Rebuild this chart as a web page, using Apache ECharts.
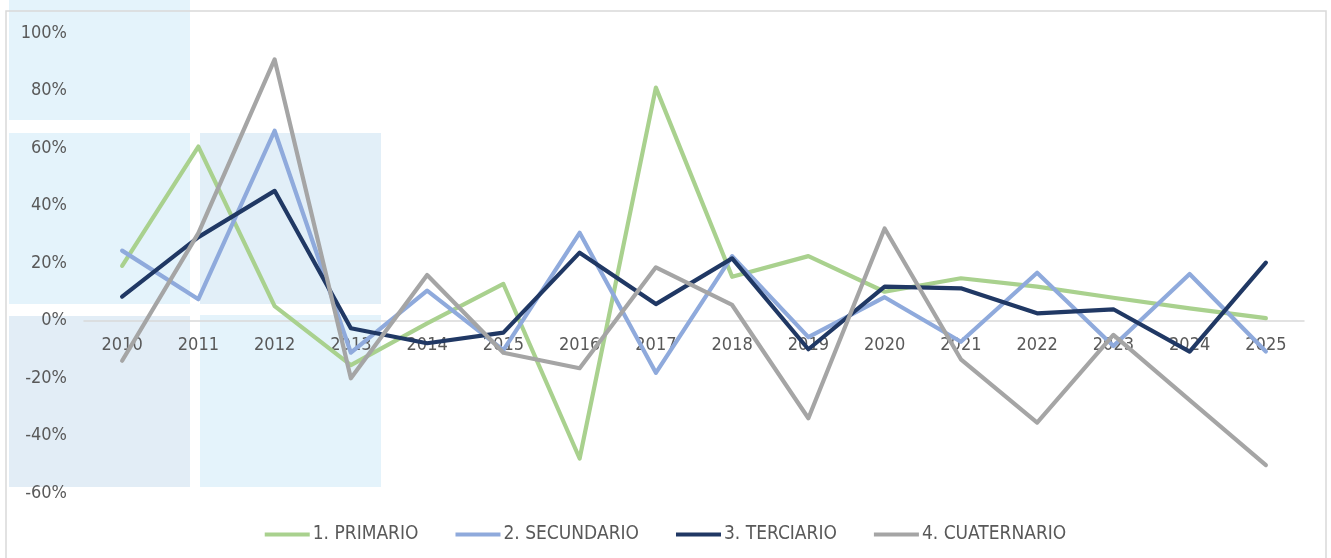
<!DOCTYPE html>
<html>
<head>
<meta charset="utf-8">
<script src="https://cdn.jsdelivr.net/npm/echarts@6/dist/echarts.min.js"></script>
<style>
  html, body { margin: 0; padding: 0; background: #fff; }
  #chart { width: 1331px; height: 558px; }
</style>
</head>
<body>
<div id="chart"></div>
<script>
// años
const years = ['2010', '2011', '2012', '2013', '2014', '2015', '2016', '2017', '2018', '2019', '2020', '2021', '2022', '2023', '2024', '2025']
// variación anual (%) por sector
const primario = [19, 60.5, 5, -15.5, -1, 12.7, -48, 81, 15.2, 22.4, 10, 14.7, 11.8, 7.9, 4.2, 0.8]
const secundario = [24.3, 7.4, 66, -11.2, 10.4, -10.3, 30.5, -18.2, 22.4, -5.8, 8.1, -7.4, 16.6, -8.9, 16.2, -10.8]
const terciario = [8.3, 29, 45.1, -2.7, -7.9, -4.2, 23.6, 5.7, 21.6, -10, 11.8, 11.2, 2.5, 3.9, -10.8, 20.1]
const cuaternario = [-14, 30.4, 90.8, -20.1, 15.8, -11.2, -16.6, 18.5, 5.4, -34, 32, -13.5, -35.5, -5, -27.7, -50.3]

const seriesNames = ['1. PRIMARIO', '2. SECUNDARIO', '3. TERCIARIO', '4. CUATERNARIO']
const colors = ['#a9d18e', '#8faadc', '#203864', '#a5a5a5']

const font = '"DejaVu Sans Condensed", "DejaVu Sans", sans-serif'

function makeLine(name, data, color) {
  return {
    name: name,
    type: 'line',
    data: data,
    symbol: 'none',
    lineStyle: { width: 4.2, color: color, cap: 'round', join: 'round' },
    itemStyle: { color: color }
  }
}

const chart = echarts.init(document.getElementById('chart'))
chart.setOption({
  animation: false,
  backgroundColor: '#fff',
  // cuadros de fondo y marco del gráfico
  graphic: [
    { type: 'rect', z: -10, shape: { x: 9, y: 0, width: 181, height: 120 }, style: { fill: '#e4f3fb' } },
    { type: 'rect', z: -10, shape: { x: 9, y: 133, width: 181, height: 171 }, style: { fill: '#e4f3fb' } },
    { type: 'rect', z: -10, shape: { x: 200, y: 133, width: 181, height: 171 }, style: { fill: '#e2eff8' } },
    { type: 'rect', z: -10, shape: { x: 9, y: 316, width: 181, height: 171 }, style: { fill: '#e2edf6' } },
    { type: 'rect', z: -10, shape: { x: 200, y: 315, width: 181, height: 172 }, style: { fill: '#e4f3fb' } },
    { type: 'rect', z: -5, shape: { x: 6, y: 11, width: 1320, height: 560 }, style: { fill: 'none', stroke: '#d9d9d9', lineWidth: 1.5 } }
  ],
  legend: {
    data: seriesNames,
    bottom: 9,
    left: 'center',
    itemWidth: 45,
    itemHeight: 4,
    itemGap: 37,
    icon: 'rect',
    textStyle: { color: '#595959', fontSize: 19, fontFamily: font, padding: [0, 0, 0, -2] }
  },
  grid: { left: 84, right: 27, top: 33, bottom: 65 },
  xAxis: {
    type: 'category',
    data: years,
    boundaryGap: true,
    // eje de categorías en la línea del 0%
    offset: -172.5,
    axisLine: { onZero: false, lineStyle: { color: '#d9d9d9', width: 1.5 } },
    axisTick: { show: false },
    axisLabel: { color: '#595959', fontSize: 18, fontFamily: font, margin: 16 }
  },
  yAxis: {
    type: 'value',
    min: -60,
    max: 100,
    interval: 20,
    axisLine: { show: false },
    axisTick: { show: false },
    splitLine: { show: false },
    axisLabel: { color: '#595959', fontSize: 18, fontFamily: font, margin: 17, formatter: '{value}%' }
  },
  series: [
    makeLine(seriesNames[0], primario, colors[0]),
    makeLine(seriesNames[1], secundario, colors[1]),
    makeLine(seriesNames[2], terciario, colors[2]),
    makeLine(seriesNames[3], cuaternario, colors[3])
  ]
})
</script>
</body>
</html>
